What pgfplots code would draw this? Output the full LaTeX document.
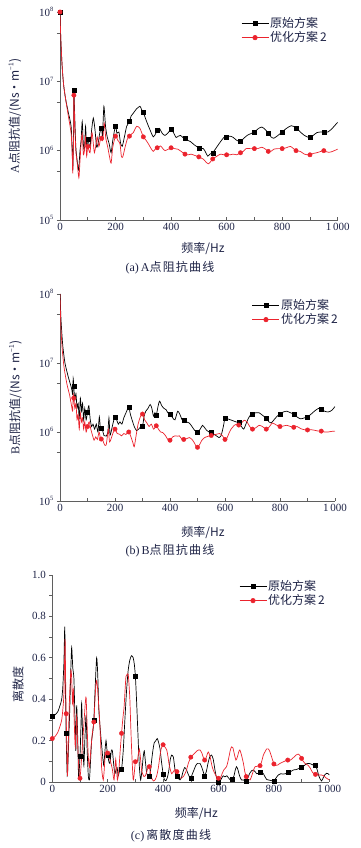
\documentclass[border=0pt]{standalone}
\usepackage{pgfplots}
\pgfplotsset{compat=1.18}
\usepackage{pgfplotstable}
\usepackage{fontspec}
\setmainfont{Liberation Serif}
\newfontfamily\cjk{Noto Sans CJK SC}
\newfontfamily\cjkw[LetterSpace=10]{Noto Sans CJK SC}
\definecolor{axgray}{RGB}{95,95,95}
\definecolor{tc}{RGB}{30,35,70}
\definecolor{myred}{RGB}{235,35,45}
\newcommand\supr[1]{\raisebox{0.85ex}{\fontsize{6.5}{7}\selectfont #1}}

\pgfplotstableread{
x y
0 1e8
3 3.98e7
8 1.58e7
13 8.91e6
20 5.62e6
30 3.55e6
40 2.24e6
44 1e6
46 5.25e5
49 2e6
50 7.41e6
53 3.16e6
57 1.12e6
62 7.08e5
67 5.25e5
72 1e6
76 1.41e6
80 2.63e6
84 1.26e6
88 1e6
92 2.24e6
96 1.12e6
100 1.48e6
108 1.12e6
114 2e6
120 2.95e6
126 2e6
132 1.12e6
138 1.32e6
143 1.78e6
150 2.14e6
153 1.58e6
158 4.37e6
164 2.24e6
170 1.58e6
177 1.26e6
184 9.33e5
190 1.41e6
200 2.29e6
205 1.78e6
212 1.86e6
218 1.29e6
224 1.15e6
232 1.58e6
240 2.24e6
250 2.63e6
256 3.16e6
264 3.47e6
275 3.98e6
288 4.37e6
294 3.89e6
300 3.55e6
312 2.63e6
324 2e6
336 1.58e6
345 1.78e6
350 1.95e6
358 2.09e6
368 1.78e6
378 1.66e6
390 1.82e6
400 2.04e6
410 1.78e6
418 1.55e6
426 1.62e6
434 1.66e6
442 1.55e6
450 1.51e6
460 1.41e6
470 1.35e6
485 1.2e6
500 1.1e6
516 1.07e6
524 9.55e5
532 8.32e5
540 8.91e5
550 9.33e5
564 1.12e6
580 1.38e6
592 1.58e6
600 1.58e6
612 1.62e6
624 1.55e6
636 1.41e6
650 1.35e6
660 1.48e6
674 1.66e6
690 1.78e6
700 1.86e6
715 2.09e6
727 2.19e6
740 2e6
750 1.78e6
760 1.58e6
770 1.51e6
785 1.66e6
800 1.86e6
815 2.09e6
833 2.29e6
850 2.14e6
865 1.86e6
880 1.66e6
890 1.58e6
900 1.55e6
912 1.66e6
925 1.82e6
940 1.86e6
950 1.86e6
965 1.86e6
980 2.09e6
1000 2.57e6
}\Ablack

\pgfplotstableread{
x y
0 1e8
3 3.98e7
8 1.58e7
13 8.91e6
20 5.62e6
30 3.16e6
40 1.78e6
44 8.91e5
46 4.79e5
49 1.58e6
50 6.31e6
53 2.51e6
57 1e6
62 6.61e5
68 4.07e5
72 7.08e5
76 1.26e6
80 1.78e6
84 8.91e5
88 1e6
92 1.58e6
96 8.32e5
100 1.15e6
108 9.33e5
115 1.82e6
120 1.26e6
124 9.33e5
130 1.26e6
134 1.58e6
140 1.15e6
145 1.41e6
150 1.51e6
154 1.41e6
159 2.51e6
165 1.51e6
172 1.12e6
178 8.32e5
184 6.61e5
190 1.12e6
200 1.62e6
208 1.41e6
216 1.26e6
221 8.32e5
226 8.13e5
235 1.15e6
242 1.45e6
250 1.62e6
258 1.74e6
264 1.82e6
276 2.24e6
288 2.09e6
300 1.58e6
310 1.41e6
318 1.26e6
328 1.07e6
336 9.77e5
344 1.07e6
350 1.1e6
362 1.17e6
372 1.05e6
378 1e6
390 1.05e6
400 1.1e6
412 1.07e6
424 1.05e6
436 9.77e5
450 8.91e5
462 8.71e5
472 8.91e5
486 8.51e5
500 8.13e5
515 7.59e5
527 6.76e5
535 6.46e5
542 6.92e5
550 7.59e5
565 8.32e5
578 8.91e5
590 8.71e5
600 8.71e5
612 8.71e5
624 8.91e5
636 8.71e5
650 9.33e5
660 9.77e5
670 1.07e6
685 1.07e6
700 1.07e6
712 1.07e6
727 1.12e6
740 1.05e6
750 9.77e5
760 9.77e5
770 1.05e6
785 1.07e6
800 1.07e6
815 1.1e6
830 1.15e6
850 1e6
865 9.77e5
880 8.91e5
890 8.71e5
900 8.71e5
912 9.12e5
925 9.33e5
940 9.77e5
950 1e6
962 9.55e5
975 9.55e5
1000 1.05e6
}\Ared

\pgfplotstableread{
x y
0 1e8
4 4e7
10 1.8e7
18 1e7
30 6.3e6
42 4.3e6
46 3.5e6
48 6.0e6
50 4.57e6
54 2.9e6
58 3.6e6
62 2.2e6
66 2.6e6
70 1.6e6
74 3.1e6
78 2.0e6
82 2.6e6
86 1.5e6
90 2.2e6
95 1.5e6
100 1.95e6
105 2.4e6
110 1.5e6
115 1.2e6
120 1.3e6
126 1.1e6
132 1.3e6
138 1.0e6
143 1.66e6
147 1.1e6
150 1.12e6
155 1.05e6
160 8.9e5
168 8.7e5
174 1.0e6
178 1.6e6
182 9e5
188 1.1e6
194 1.4e6
200 1.66e6
206 1.5e6
212 1.3e6
218 1.4e6
225 1.3e6
232 1.6e6
240 1.9e6
250 2.29e6
256 1.8e6
262 1.5e6
270 1.2e6
278 1.05e6
286 1.1e6
294 1.2e6
300 1.2e6
306 1.7e6
312 2.0e6
320 2.2e6
328 2.5e6
334 2.2e6
340 1.7e6
345 1.9e6
350 1.74e6
356 2.3e6
362 2.8e6
370 2.4e6
378 2.2e6
386 2.1e6
392 1.9e6
400 1.82e6
410 1.6e6
418 1.5e6
428 2.0e6
436 1.8e6
444 1.5e6
450 1.48e6
460 1.4e6
470 1.35e6
480 1.2e6
490 1.05e6
500 1.0e6
510 1.1e6
518 1.25e6
526 1.15e6
534 1.05e6
542 1.0e6
550 9.8e5
560 9.3e5
570 8.7e5
578 8.3e5
586 8.9e5
594 1.2e6
600 1.58e6
610 1.55e6
620 1.5e6
630 1.45e6
640 1.4e6
650 1.38e6
660 1.2e6
668 1.1e6
676 1.3e6
684 1.55e6
692 1.75e6
700 1.82e6
712 1.9e6
724 1.9e6
736 1.75e6
750 1.58e6
760 1.4e6
768 1.35e6
778 1.5e6
790 1.7e6
800 1.82e6
812 1.95e6
825 2.0e6
838 1.9e6
850 1.82e6
862 1.65e6
875 1.55e6
888 1.6e6
900 1.66e6
912 1.8e6
925 2.0e6
940 2.2e6
950 2.14e6
962 2.0e6
975 1.95e6
988 2.05e6
1000 2.34e6
}\Bblack

\pgfplotstableread{
x y
0 1e8
3 3.5e7
8 1.6e7
15 8.5e6
25 5.0e6
35 3.4e6
42 2.4e6
46 2.0e6
48 3.5e6
50 3.1e6
54 2.2e6
58 2.6e6
62 1.5e6
66 1.8e6
70 1.1e6
74 1.9e6
78 1.4e6
82 1.6e6
86 1.1e6
90 1.4e6
95 1.0e6
100 1.2e6
106 1.4e6
112 1.1e6
118 9e5
124 7.6e5
130 8.5e5
136 7.8e5
142 1.0e6
146 8.5e5
150 7.9e5
156 7.5e5
162 6.5e5
168 6.5e5
172 8.5e5
176 1.1e6
180 7.2e5
186 8.0e5
192 9.5e5
200 1.1e6
208 9.5e5
216 9.3e5
224 8.8e5
232 9.5e5
240 9.2e5
250 1.0e6
258 8.5e5
265 7.0e5
270 6.1e5
276 8.5e5
284 1.3e6
292 1.65e6
300 1.82e6
308 1.5e6
316 1.35e6
324 1.2e6
332 1.3e6
340 1.1e6
345 1.15e6
350 1.23e6
358 1.1e6
366 1.0e6
374 9.8e5
384 8.8e5
392 7.8e5
400 7.6e5
410 8.5e5
418 8.8e5
426 8.7e5
434 8.8e5
442 8.0e5
450 7.8e5
460 8.0e5
470 8.3e5
480 7.8e5
490 6.8e5
496 6.1e5
500 6.0e5
508 6.6e5
516 7.6e5
526 8.3e5
540 8.7e5
550 8.9e5
560 9.1e5
570 9.3e5
580 9.5e5
590 8.9e5
600 7.8e5
606 8.0e5
614 9.5e5
622 1.1e6
634 1.25e6
642 1.3e6
650 1.26e6
660 1.35e6
670 1.48e6
680 1.4e6
690 1.2e6
700 1.1e6
712 1.15e6
724 1.25e6
736 1.2e6
750 1.1e6
762 1.2e6
772 1.35e6
784 1.28e6
800 1.2e6
812 1.22e6
825 1.25e6
838 1.2e6
850 1.17e6
862 1.2e6
875 1.12e6
888 1.08e6
900 1.07e6
912 1.08e6
925 1.06e6
940 1.03e6
950 1.03e6
962 1.0e6
975 1.0e6
988 1.02e6
1000 1.03e6
}\Bred

\pgfplotstableread{
x y
0 0.316
10 0.325
20 0.34
28 0.37
34 0.40
38 0.46
42 0.58
45 0.75
47 0.5
50 0.235
54 0.03
58 0.15
63 0.35
67 0.55
70 0.65
74 0.55
78 0.5
82 0.3
85 0.15
88 0.37
92 0.2
95 0.02
100 0.125
103 0.25
106 0.38
110 0.2
114 0.08
118 0.22
122 0.32
126 0.15
130 0.03
134 0.01
138 0.10
142 0.2
146 0.24
150 0.3
154 0.43
160 0.60
164 0.52
168 0.35
174 0.24
178 0.18
182 0.12
186 0.08
190 0.15
194 0.2
197 0.16
200 0.13
204 0.1
208 0.09
213 0.15
217 0.15
222 0.08
226 0.04
230 0.06
234 0.07
238 0.03
242 0.05
246 0.06
250 0.06
256 0.15
262 0.30
268 0.44
274 0.54
280 0.59
286 0.61
292 0.6
296 0.57
300 0.51
304 0.40
308 0.27
312 0.14
315 0.06
319 0.01
324 0.06
328 0.12
332 0.15
336 0.10
341 0.04
346 0.03
350 0.026
355 0.06
360 0.12
364 0.16
368 0.19
374 0.20
379 0.21
384 0.19
389 0.16
394 0.10
400 0.04
405 0.01
410 0.006
415 0.02
420 0.05
426 0.11
431 0.13
437 0.12
441 0.08
445 0.04
450 0.026
456 0.015
461 0.01
466 0.02
472 0.05
478 0.07
484 0.06
490 0.04
495 0.025
500 0.02
506 0.04
512 0.06
518 0.08
524 0.09
533 0.09
540 0.07
546 0.045
550 0.03
556 0.05
562 0.09
568 0.12
575 0.13
581 0.11
587 0.06
593 0.02
600 0.0
606 0.005
612 0.02
617 0.03
623 0.025
630 0.03
636 0.02
643 0.01
650 0.013
656 0.03
660 0.055
665 0.074
670 0.06
676 0.03
683 0.01
690 0.01
696 0.005
700 0.006
706 0.02
712 0.04
720 0.055
726 0.058
732 0.05
738 0.04
744 0.042
750 0.048
756 0.05
762 0.04
768 0.025
774 0.012
780 0.01
787 0.008
793 0.006
800 0.006
808 0.02
816 0.034
825 0.04
833 0.038
842 0.04
850 0.045
860 0.05
870 0.058
880 0.06
890 0.065
900 0.071
910 0.08
918 0.088
924 0.09
932 0.088
940 0.083
950 0.079
956 0.06
962 0.03
968 0.012
972 0.005
978 0.02
984 0.035
990 0.042
996 0.04
1000 0.034
}\Cblack

\pgfplotstableread{
x y
0 0.21
10 0.22
20 0.24
28 0.27
34 0.30
38 0.35
42 0.43
46 0.69
48 0.5
50 0.33
53 0.12
55 0.03
58 0.2
62 0.4
67 0.54
70 0.5
73 0.38
76 0.45
79 0.3
83 0.17
88 0.32
91 0.2
94 0.11
97 0.04
100 0.018
104 0.08
110 0.2
115 0.30
119 0.38
122 0.41
125 0.3
128 0.18
131 0.1
134 0.07
137 0.12
140 0.17
145 0.24
150 0.29
155 0.42
159 0.49
163 0.46
166 0.40
169 0.34
172 0.27
175 0.17
178 0.07
181 0.03
184 0.01
187 0.05
190 0.11
193 0.14
196 0.15
200 0.14
204 0.12
208 0.11
212 0.09
217 0.06
220 0.03
223 0.01
226 0.06
229 0.11
232 0.06
235 0.01
238 0.03
241 0.07
245 0.15
250 0.235
255 0.31
259 0.36
263 0.45
266 0.51
270 0.52
274 0.52
277 0.47
280 0.40
283 0.28
286 0.17
289 0.08
292 0.01
295 0.03
300 0.098
304 0.1
307 0.1
310 0.13
314 0.16
318 0.12
322 0.06
326 0.04
331 0.026
336 0.03
341 0.05
346 0.07
350 0.074
355 0.04
360 0.015
366 0.005
371 0.01
377 0.03
383 0.07
388 0.12
393 0.16
400 0.18
406 0.17
413 0.155
418 0.12
421 0.09
426 0.06
431 0.04
437 0.05
443 0.06
450 0.05
455 0.03
461 0.018
467 0.02
473 0.026
479 0.04
485 0.06
491 0.09
500 0.12
507 0.13
515 0.14
522 0.15
528 0.155
533 0.155
540 0.14
546 0.115
550 0.106
556 0.12
563 0.145
570 0.12
576 0.08
581 0.058
587 0.04
593 0.026
600 0.018
607 0.02
613 0.04
620 0.06
629 0.074
636 0.11
642 0.15
647 0.17
652 0.165
658 0.13
663 0.106
668 0.12
673 0.145
677 0.155
683 0.13
690 0.09
695 0.05
700 0.026
707 0.012
714 0.01
720 0.03
726 0.055
732 0.074
740 0.076
745 0.078
750 0.079
756 0.1
762 0.13
768 0.146
774 0.16
780 0.16
786 0.145
792 0.12
798 0.095
800 0.087
806 0.08
814 0.082
822 0.09
830 0.095
838 0.1
845 0.104
850 0.106
857 0.104
864 0.11
876 0.125
882 0.132
888 0.135
894 0.128
900 0.114
906 0.1
912 0.09
918 0.085
924 0.08
932 0.065
940 0.045
950 0.037
958 0.035
965 0.034
972 0.034
980 0.03
988 0.02
994 0.015
1000 0.01
}\Cred

\pgfplotsset{
  panel/.style={
    scale only axis, anchor=south west,
    axis lines=left,
    axis line style={-, draw=axgray, line width=0.7pt},
    tick style={draw=axgray, line width=0.6pt},
    major tick length=3pt, minor tick length=3pt,
    xtick align=inside, ytick align=outside,
    xmin=0, xmax=1000,
    xtick={0,200,400,600,800,1000},
    xticklabels={0,200,400,600,800,1\,000},
    minor xtick={100,300,500,700,900},
    tick label style={font=\fontsize{11}{13}\selectfont, text=tc},
    label style={font=\fontsize{12}{14}\selectfont, text=tc},
    legend cell align=left,
    legend image code/.code={\draw[mark repeat=2,mark phase=2,##1] plot coordinates {(0pt,0pt) (13.5pt,0pt) (27pt,0pt)};},
    legend style={draw=none, fill=none, anchor=north west, row sep=0pt,
      nodes={inner sep=1.3pt, font=\fontsize{12}{14}\selectfont, text=tc}},
  },
  blk/.style={black, line width=0.7pt},
  rd/.style={myred, line width=0.7pt},
  sm/.style={smooth, tension=0.4},
  bm/.style={black, only marks, mark=square*, mark size=2pt},
  rm/.style={myred, only marks, mark=*, mark size=2.2pt},
  sel/.style={x filter/.expression={(abs(mod(x+25,50)-25)<0.5 && x<990) ? x : nan}},
  selnz/.style={x filter/.expression={(abs(mod(x+25,50)-25)<0.5 && x<990 && x>1) ? x : nan}},
}

\begin{document}
\begin{tikzpicture}
\useasboundingbox (0,0) rectangle (361pt,848pt);

% ---------- (a)
\begin{axis}[panel, at={(60pt,628pt)}, width=277.7pt, height=208pt,
  ymode=log, ymin=1e5, ymax=1e8,
  ytick={1e5,1e6,1e7,1e8},
  yticklabels={10\supr{5},10\supr{6},10\supr{7},10\supr{8}},
  minor ytick={5e5,5e6,5e7},
  xlabel={\cjk{频率}/Hz},
  xlabel style={at={(axis description cs:0.515,-0.135)}, anchor=center},
  ylabel={A\cjk{点阻抗值}/(Ns·m\supr{−1})},
  ylabel style={at={(axis description cs:-0.162,0.5)}, anchor=center},
  legend style={at={(axis description cs:0.641,0.99)}}]
\addplot[blk, sm, forget plot] table {\Ablack};
\addplot[rd, sm, forget plot] table {\Ared};
\addplot[bm, sel, forget plot] table {\Ablack};
\addplot[rm, sel, forget plot] table {\Ared};
\addlegendimage{blk, mark=square*, mark size=2pt}
\addlegendentry{\cjk{原始方案}}
\addlegendimage{rd, mark=*, mark size=2.2pt}
\addlegendentry{\cjk{优化方案}\,2}
\end{axis}
\node[font=\fontsize{12}{14}\selectfont, text=tc] at (170pt,580pt) {(a)\,A\cjkw{点阻抗曲线}};

% ---------- (b)
\begin{axis}[panel, at={(60pt,347pt)}, width=275pt, height=207pt,
  ymode=log, ymin=1e5, ymax=1e8,
  ytick={1e5,1e6,1e7,1e8},
  yticklabels={10\supr{5},10\supr{6},10\supr{7},10\supr{8}},
  minor ytick={5e5,5e6,5e7},
  xlabel={\cjk{频率}/Hz},
  xlabel style={at={(axis description cs:0.52,-0.15)}, anchor=center},
  ylabel={B\cjk{点阻抗值}/(Ns·m\supr{−1})},
  ylabel style={at={(axis description cs:-0.162,0.5)}, anchor=center},
  legend style={at={(axis description cs:0.687,0.99)}}]
\addplot[blk, sm, forget plot] table {\Bblack};
\addplot[rd, sm, forget plot] table {\Bred};
\addplot[bm, selnz, forget plot] table {\Bblack};
\addplot[rm, selnz, forget plot] table {\Bred};
\addlegendimage{blk, mark=square*, mark size=2pt}
\addlegendentry{\cjk{原始方案}}
\addlegendimage{rd, mark=*, mark size=2.2pt}
\addlegendentry{\cjk{优化方案}\,2}
\end{axis}
\node[font=\fontsize{12}{14}\selectfont, text=tc] at (170pt,297pt) {(b)\,B\cjkw{点阻抗曲线}};

% ---------- (c)
\begin{axis}[panel, at={(52.3pt,66pt)}, width=277pt, height=207pt,
  ymin=0, ymax=1,
  ytick={0,0.2,0.4,0.6,0.8,1},
  yticklabels={0,0.2,0.4,0.6,0.8,1.0},
  minor ytick={0.1,0.3,0.5,0.7,0.9},
  xlabel={\cjk{频率}/Hz},
  xlabel style={at={(axis description cs:0.52,-0.15)}, anchor=center},
  ylabel={\cjk{离散度}},
  ylabel style={at={(axis description cs:-0.124,0.47)}, anchor=center},
  legend style={at={(axis description cs:0.663,0.99)}}]
\addplot[blk, sm, forget plot] table {\Cblack};
\addplot[rd, sm, forget plot] table {\Cred};
\addplot[bm, sel, forget plot] table {\Cblack};
\addplot[rm, sel, forget plot] table {\Cred};
\addlegendimage{blk, mark=square*, mark size=2pt}
\addlegendentry{\cjk{原始方案}}
\addlegendimage{rd, mark=*, mark size=2.2pt}
\addlegendentry{\cjk{优化方案}\,2}
\end{axis}
\node[font=\fontsize{12}{14}\selectfont, text=tc] at (171pt,12pt) {(c)\,\cjkw{离散度曲线}};
\end{tikzpicture}
\end{document}
